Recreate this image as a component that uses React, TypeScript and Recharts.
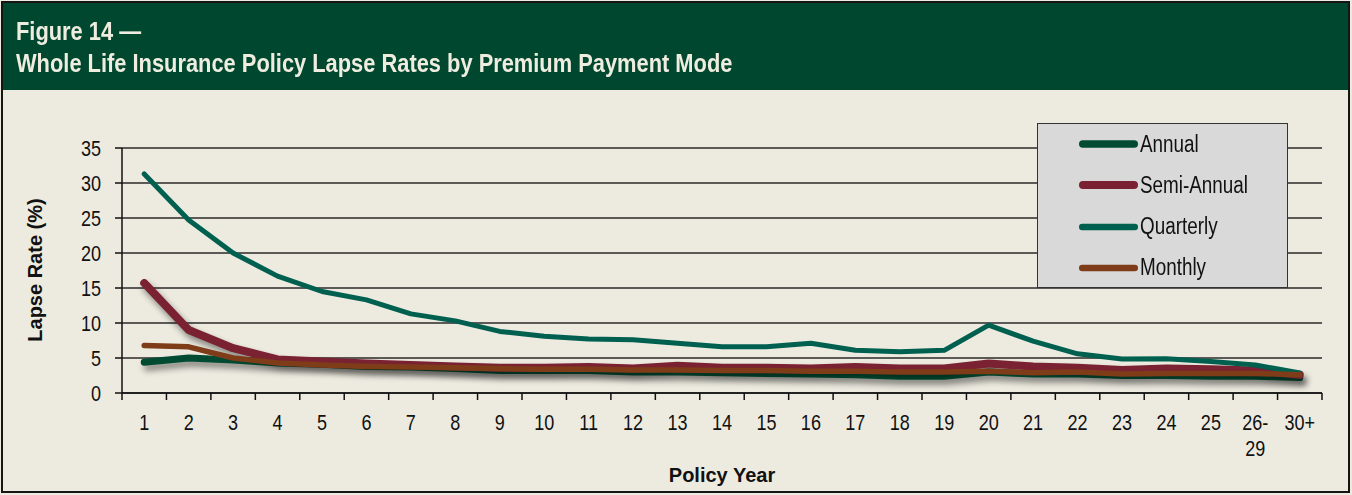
import React from "react";
import { CartesianGrid, Line, LineChart, XAxis, YAxis } from "recharts";

// Policy year categories
const years = ["1", "2", "3", "4", "5", "6", "7", "8", "9", "10", "11", "12", "13", "14", "15", "16", "17", "18", "19", "20", "21", "22", "23", "24", "25", "26-29", "30+"];

// Lapse rates (%)
const annual = [4.4, 5.0, 4.7, 4.3, 4.1, 3.8, 3.7, 3.5, 3.2, 3.2, 3.2, 3.0, 3.0, 2.9, 2.8, 2.7, 2.6, 2.4, 2.4, 3.0, 2.7, 2.7, 2.5, 2.5, 2.4, 2.4, 2.2];
const semiAnnual = [15.7, 9.0, 6.4, 4.8, 4.5, 4.2, 4.0, 3.8, 3.6, 3.6, 3.7, 3.5, 3.9, 3.6, 3.6, 3.5, 3.7, 3.5, 3.5, 4.2, 3.8, 3.6, 3.3, 3.5, 3.4, 3.2, 2.6];
const quarterly = [31.3, 24.7, 20.0, 16.7, 14.5, 13.3, 11.3, 10.3, 8.8, 8.1, 7.7, 7.6, 7.1, 6.6, 6.6, 7.1, 6.1, 5.9, 6.1, 9.7, 7.4, 5.6, 4.85, 4.9, 4.5, 4.0, 2.85];
const monthly = [6.8, 6.6, 5.0, 4.3, 4.0, 3.8, 3.7, 3.6, 3.5, 3.4, 3.4, 3.3, 3.3, 3.2, 3.2, 3.1, 3.1, 3.0, 3.0, 3.1, 2.9, 3.0, 2.7, 2.8, 2.8, 2.8, 2.6];

const yTicks = [0, 5, 10, 15, 20, 25, 30, 35];

const series = [
  { key: "annual", name: "Annual", color: "#004b32", width: 7, legendWidth: 7.5, shadow: true },
  { key: "semi", name: "Semi-Annual", color: "#7a2232", width: 8, legendWidth: 8, shadow: true },
  { key: "quarterly", name: "Quarterly", color: "#006050", width: 5, legendWidth: 6.5, shadow: false },
  { key: "monthly", name: "Monthly", color: "#7e3c18", width: 5.5, legendWidth: 6.5, shadow: false },
];

const data = years.map((year, i) => ({
  year,
  annual: annual[i],
  semi: semiAnnual[i],
  quarterly: quarterly[i],
  monthly: monthly[i],
}));

const W = 1352;
const H = 495;
const margin = { top: 148, right: 30, bottom: 42, left: 62 };
const yAxisWidth = 60;
const xAxisHeight = 60;
const plotWidth = W - margin.left - yAxisWidth - margin.right;
const step = plotWidth / years.length;

// no narrow face installed, so Liberation Sans gets squeezed horizontally
const sans = '"Liberation Sans", Arial, sans-serif';
const SQUEEZE = 0.82;

// x tick: label under the category, tick marks on the category boundaries
const XTick = (props: any) => {
  const { x, y, payload, index } = props;
  const label: string = payload.value;
  const cut = label.indexOf("-");
  const lines = cut >= 0 ? [label.slice(0, cut + 1), label.slice(cut + 1)] : [label];
  const last = index === years.length - 1;
  return (
    <g>
      <line x1={x - step / 2} x2={x - step / 2} y1={y} y2={y + 7} stroke="#111" strokeWidth={1.5} />
      {last && <line x1={x + step / 2} x2={x + step / 2} y1={y} y2={y + 7} stroke="#111" strokeWidth={1.5} />}
      {lines.map((t, i) => (
        <text key={i} transform={`translate(${x},${y + 37 + i * 26}) scale(${SQUEEZE},1)`} textAnchor="middle" fontSize={22} fontFamily={sans} fill="#111">
          {t}
        </text>
      ))}
    </g>
  );
};

const YTick = (props: any) => {
  const { x, y, payload } = props;
  return (
    <text transform={`translate(${x},${y}) scale(${SQUEEZE},1)`} dy="0.36em" textAnchor="end" fontSize={22} fontFamily={sans} fill="#111">
      {payload.value}
    </text>
  );
};

export default function App() {
  return (
    <div style={{ position: "absolute", left: 0, top: 0, width: W, height: H, background: "#edebe0", overflow: "hidden" }}>
      <style>{`.shadowed { filter: drop-shadow(3px 5px 3px rgba(0,0,0,0.45)); }`}</style>

      {/* header band */}
      <div style={{ position: "absolute", left: 1, top: 1, width: W - 3, height: 89, background: "#00472f" }} />
      <div style={{ position: "absolute", left: 16, top: 16, transform: "scaleX(0.874)", transformOrigin: "left top", fontFamily: sans, fontWeight: "bold", fontSize: 25, lineHeight: "31.7px", color: "#efede0", whiteSpace: "nowrap" }}>
        <div>Figure 14 —</div>
        <div>Whole Life Insurance Policy Lapse Rates by Premium Payment Mode</div>
      </div>

      {/* chart */}
      <div style={{ position: "absolute", left: 0, top: 0 }}>
        <LineChart width={W} height={H} data={data} margin={margin}>
          <CartesianGrid vertical={false} stroke="#2a2a2a" strokeWidth={1.3} />
          <XAxis
            dataKey="year"
            height={xAxisHeight}
            interval={0}
            padding={{ left: step / 2, right: step / 2 }}
            tickLine={false}
            tickSize={0}
            tickMargin={0}
            axisLine={{ stroke: "#111", strokeWidth: 1.5 }}
            tick={<XTick />}
          />
          <YAxis
            width={yAxisWidth}
            domain={[0, 35]}
            ticks={yTicks}
            interval={0}
            tickSize={7}
            tickMargin={14}
            tickLine={{ stroke: "#111", strokeWidth: 1.5 }}
            axisLine={{ stroke: "#111", strokeWidth: 1.5 }}
            tick={<YTick />}
          />
          <YAxis yAxisId="right" orientation="right" width={0} tick={false} tickLine={false} axisLine={{ stroke: "#111", strokeWidth: 1.5 }} />
          {series.map((s) => (
            <Line
              key={s.key}
              className={s.shadow ? "shadowed" : undefined}
              type="linear"
              dataKey={s.key}
              name={s.name}
              stroke={s.color}
              strokeWidth={s.width}
              strokeLinecap="round"
              strokeLinejoin="round"
              dot={false}
              activeDot={false}
              isAnimationActive={false}
            />
          ))}
        </LineChart>
      </div>

      {/* axis titles */}
      <div style={{ position: "absolute", left: 722, top: 464, transform: "translateX(-50%)", fontFamily: sans, fontWeight: "bold", fontSize: 20, color: "#111", whiteSpace: "nowrap" }}>
        Policy Year
      </div>
      <div style={{ position: "absolute", left: 35, top: 270, transform: "translate(-50%, -50%) rotate(-90deg)", fontFamily: sans, fontWeight: "bold", fontSize: 20, color: "#111", whiteSpace: "nowrap" }}>
        Lapse Rate (%)
      </div>

      {/* legend */}
      <div style={{ position: "absolute", left: 1037, top: 123, width: 251, height: 165, boxSizing: "border-box", background: "#d9d9d9", border: "1.5px solid #333" }}>
        {series.map((s, i) => (
          <div key={s.key} style={{ position: "absolute", left: 40, top: 20 + i * 41.3 - 15, height: 30, display: "flex", alignItems: "center" }}>
            <svg width={62} height={30}>
              <line x1={s.legendWidth / 2 + 1} x2={60 - s.legendWidth / 2} y1={15} y2={15} stroke={s.color} strokeWidth={s.legendWidth} strokeLinecap="round" />
            </svg>
            <span style={{ display: "inline-block", transform: `scaleX(${SQUEEZE})`, transformOrigin: "left center", fontFamily: sans, fontSize: 23, color: "#111" }}>{s.name}</span>
          </div>
        ))}
      </div>

      {/* outer frame */}
      <div style={{ position: "absolute", left: 1, top: 1, width: W - 3, height: H - 3, boxSizing: "border-box", border: "2px solid #151515" }} />
    </div>
  );
}
